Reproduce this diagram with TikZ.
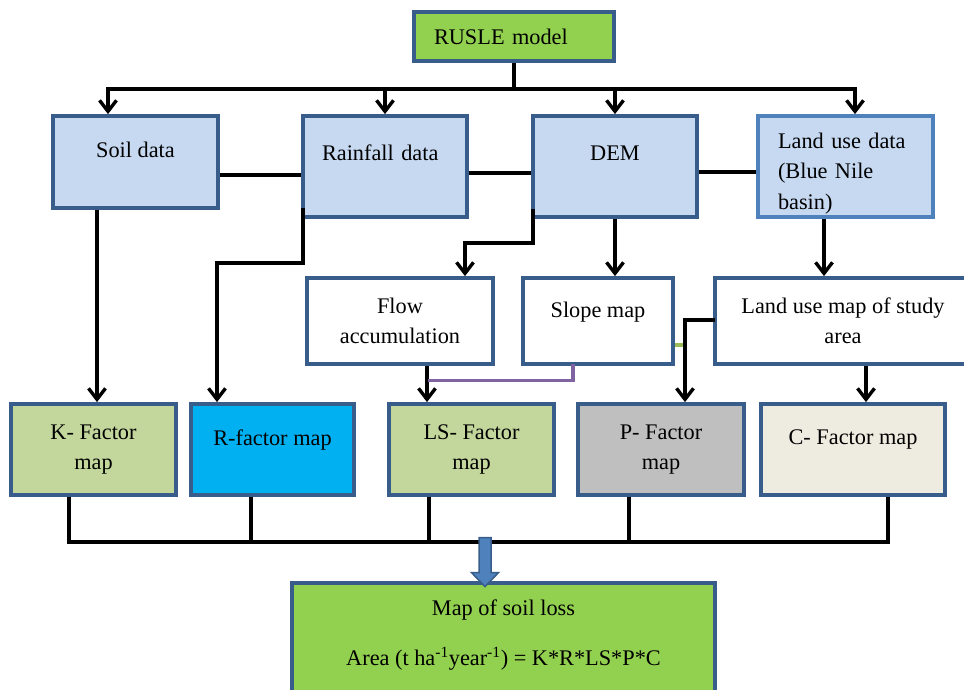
\documentclass[tikz,border=0pt]{standalone}
\usepackage{fontspec}
\setmainfont{Liberation Serif}
\usetikzlibrary{arrows.meta,calc}
\definecolor{frameblue}{RGB}{56,93,138}
\definecolor{lightframe}{RGB}{79,129,189}
\definecolor{datablue}{RGB}{198,217,241}
\definecolor{modelgreen}{RGB}{146,208,80}
\definecolor{kgreen}{RGB}{195,214,155}
\definecolor{rcyan}{RGB}{0,176,240}
\definecolor{pgrey}{RGB}{191,191,191}
\definecolor{ccream}{RGB}{238,236,225}
\definecolor{slopepurple}{RGB}{128,100,162}
\definecolor{dashgreen}{RGB}{155,187,89}

\begin{document}
\begin{tikzpicture}[x=1pt, y=-1pt,
  every node/.append style={font=\fontsize{22.3}{30.5}\selectfont},
  box/.style={draw=frameblue, line width=3.8pt, align=center, inner sep=0pt},
  oneline/.style={text depth=#1}, oneline/.default=24pt,
  link/.style={line width=3.4pt},
  arr/.style={link, -{Straight Barb[length=11pt,width=17pt]}},
]
\useasboundingbox (0,0) rectangle (964,689);

% ---------- model ----------
\node[box, fill=modelgreen, minimum width=200, minimum height=49, text width=160pt, align=left] (rusle) at (514,36.5) {RUSLE model};

% ---------- input data ----------
\node[box, fill=datablue, minimum width=165, minimum height=92, oneline] (soil) at (135.5,162) {Soil data};
\node[box, fill=datablue, minimum width=164, minimum height=101, oneline=27pt, text width=126pt, align=left] (rain) at (385,166.5) {Rainfall data};
\node[box, fill=datablue, minimum width=164, minimum height=101, oneline=27pt] (dem) at (615,166.5) {DEM};
\node[box, draw=lightframe, fill=datablue, minimum width=175, minimum height=101, text width=135pt, text height=29pt, align=left] (land) at (845.5,166.5) {Land use data\\(Blue Nile\\basin)};

% ---------- derived maps ----------
\node[box, fill=white, minimum width=186, minimum height=86] (flow) at (400,321) {Flow\\accumulation};
\node[box, fill=white, minimum width=150, minimum height=86, oneline=22pt] (slope) at (598,321) {Slope map};
\node[box, fill=white, minimum width=256, minimum height=86] (lmap) at (843,321) {Land use map of study\\area};

% ---------- factor maps ----------
\node[box, fill=kgreen, minimum width=165, minimum height=91] (k) at (93.5,449.5) {K- Factor\\map};
\node[box, fill=rcyan, minimum width=163, minimum height=91, oneline=23pt] (r) at (272.5,449.5) {R-factor map};
\node[box, fill=kgreen, minimum width=165, minimum height=91] (ls) at (471.5,449.5) {LS- Factor\\map};
\node[box, fill=pgrey, minimum width=166, minimum height=91] (p) at (661,449.5) {P- Factor\\map};
\node[box, fill=ccream, minimum width=184, minimum height=91, oneline=25pt] (c) at (853,449.5) {C- Factor map};

% ---------- result ----------
\node[box, fill=modelgreen, minimum width=423, minimum height=112, text depth=13pt] (loss) at (503.5,639)
  {Map of soil loss\\[19pt]Area (t ha\textsuperscript{-1}year\textsuperscript{-1}) = K*R*LS*P*C};

% top distribution
\draw[link] (rusle.south) -- ++(0,26) coordinate (hub);
\draw[arr] (hub) -| ($(soil.north)+(-27.5,0)$);
\draw[arr] (hub) -| (rain.north);
\draw[arr] (hub) -| (dem.north);
\draw[arr] (hub) -| ($(land.north)+(9.5,0)$);

% links between data boxes
\draw[link] ($(soil.east)+(0,13)$) -- ($(rain.west)+(0,8.5)$);
\draw[link] ($(rain.east)+(0,6.5)$) -- ($(dem.west)+(0,6.5)$);
\draw[link] ($(dem.east)+(0,5.5)$) -- ($(land.west)+(0,5.5)$);

% data to maps
\draw[arr] ($(soil.south)+(-38.5,0)$) -- ($(k.north)+(3.5,0)$);
\draw[arr] ($(rain.south west)+(1.9,-11)$) -- ++(0,55) -| ($(r.north)+(-55.5,0)$);
\draw[arr] ($(dem.south west)+(1.9,-10)$) -- ++(0,34) -| ($(flow.north)+(65,0)$);
\draw[arr] (dem.south) -- (dem.south |- slope.north);
\draw[arr] ($(land.south)+(-21.5,0)$) -- ($(lmap.north)+(-19,0)$);

% maps to factors
\draw[arr] ($(flow.south)+(27,0)$) -- ($(ls.north)+(-44.5,0)$);
\draw[link, slopepurple] ($(slope.south)+(-25,-1.9)$) |- ($(flow.south)+(28,14.5)$);
\draw[dashgreen, line width=3.4pt] ($(slope.east)+(0,24)$) -- ++(11,0);
\draw[arr] ($(lmap.west)+(1.9,-1)$) -| ($(p.north)+(24,0)$);
\draw[arr] ($(lmap.south)+(23,0)$) -- ($(c.north)+(13,0)$);

% collecting bus
\draw[link] ($(k.south)+(-24.5,0)$) |- ($(c.south)+(35,45)$) -- ($(c.south)+(35,0)$);
\draw[link] ($(r.south)+(-21.5,0)$) -- ++(0,45);
\draw[link] ($(ls.south)+(-42.5,0)$) -- ++(0,45);
\draw[link] ($(p.south)+(-32,0)$) -- ++(0,45);

% block arrow into result
\draw[draw=frameblue, fill=lightframe, line width=1.5pt]
  ($(loss.north)+(-18.5,5.5)$) -- ++(-13.5,-14) -- ++(7.5,0) -- ++(0,-35)
  -- ++(12,0) -- ++(0,35) -- ++(7.5,0) -- cycle;

\end{tikzpicture}
\end{document}
